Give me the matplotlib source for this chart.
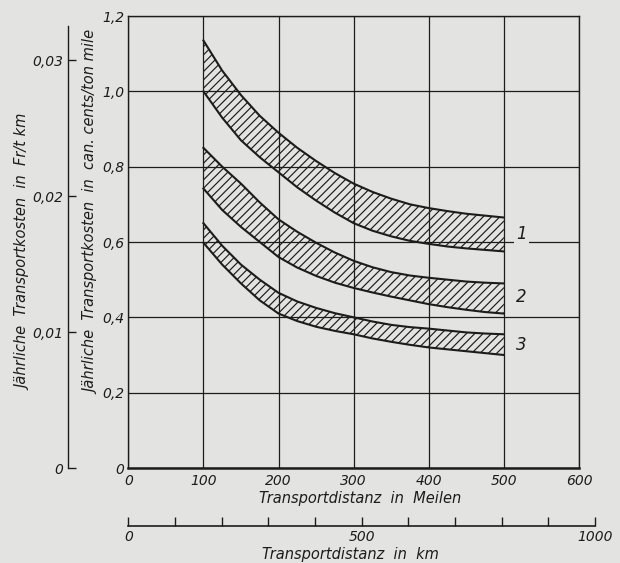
import matplotlib
matplotlib.use("Agg")
import matplotlib.pyplot as plt

# values (cents / ton mile over distance in miles)
miles = [100, 125, 150, 175, 200, 225, 250, 275, 300, 325, 350, 375, 400, 425, 450, 475, 500]
band1_upper = [1.135, 1.055, 0.99, 0.935, 0.89, 0.85, 0.815, 0.783, 0.755, 0.733, 0.715,
               0.70, 0.69, 0.682, 0.675, 0.67, 0.665]
band1_lower = [1.0, 0.93, 0.87, 0.825, 0.785, 0.745, 0.71, 0.678, 0.65, 0.63, 0.615,
               0.603, 0.595, 0.588, 0.583, 0.579, 0.575]
band2_upper = [0.85, 0.80, 0.755, 0.705, 0.66, 0.627, 0.598, 0.572, 0.55, 0.533, 0.52,
               0.511, 0.505, 0.50, 0.495, 0.492, 0.49]
band2_lower = [0.742, 0.685, 0.64, 0.60, 0.56, 0.532, 0.51, 0.492, 0.478, 0.466, 0.455,
               0.445, 0.435, 0.427, 0.42, 0.414, 0.41]
band3_upper = [0.65, 0.59, 0.54, 0.50, 0.465, 0.442, 0.425, 0.411, 0.40, 0.389, 0.38,
               0.374, 0.37, 0.365, 0.36, 0.357, 0.355]
band3_lower = [0.598, 0.54, 0.49, 0.445, 0.41, 0.39, 0.375, 0.364, 0.355, 0.344, 0.335,
               0.327, 0.32, 0.315, 0.31, 0.305, 0.30]
band_names = ["1", "2", "3"]
band_label_pos = [(516, 0.62), (516, 0.455), (516, 0.327)]

mile_ticks = [0, 100, 200, 300, 400, 500, 600]
cent_ticks = [0, 0.2, 0.4, 0.6, 0.8, 1.0, 1.2]
cent_labels = ["0", "0,2", "0,4", "0,6", "0,8", "1,0", "1,2"]
fr_ticks = [0, 0.01, 0.02, 0.03]
fr_labels = ["0", "0,01", "0,02", "0,03"]
km_ticks = [0, 100, 200, 300, 400, 500, 600, 700, 800, 900, 1000]
km_labels = ["0", "", "", "", "", "500", "", "", "", "", "1000"]

FR_PER_CENT = 0.0277      # Fr/t km per can. cent/ton mile (from the two scales)
MILES_PER_KM = 0.62137

bg = "#e3e3e1"
ink = "#1c1c1c"

plt.rcParams["font.family"] = ["DejaVu Sans"]
plt.rcParams["font.style"] = "italic"
plt.rcParams["font.size"] = 10
plt.rcParams["hatch.linewidth"] = 0.85
plt.rcParams["hatch.color"] = ink

fig = plt.figure(figsize=(6.2, 5.63), dpi=100, facecolor=bg)

L = 128.3 / 620
B = 1 - 468 / 563
W = (579 - 128.3) / 620
H = (468 - 16) / 563

ax = fig.add_axes([L, B, W, H])
ax.set_facecolor(bg)
ax.set_xlim(0, 600)
ax.set_ylim(0, 1.2)
ax.set_axisbelow(True)
ax.set_xticks(mile_ticks)
ax.set_xticklabels([str(t) for t in mile_ticks])
ax.set_yticks(cent_ticks)
ax.set_yticklabels(cent_labels)
ax.tick_params(length=0, colors=ink, labelsize=10)
ax.tick_params(axis="x", pad=4)
ax.tick_params(axis="y", pad=3)
ax.grid(True, color=ink, linewidth=0.9)
for side in ["left", "right", "top"]:
    ax.spines[side].set_linewidth(1.0)
    ax.spines[side].set_color(ink)
ax.spines["bottom"].set_linewidth(1.8)
ax.spines["bottom"].set_color(ink)

bands = [(band1_upper, band1_lower), (band2_upper, band2_lower), (band3_upper, band3_lower)]
for (upper, lower), name, pos in zip(bands, band_names, band_label_pos):
    ax.fill_between(miles, lower, upper, facecolor="none", edgecolor=ink,
                    linewidth=0, hatch="////", zorder=2)
    ax.plot(miles, upper, color=ink, linewidth=1.5, zorder=3, solid_joinstyle="round")
    ax.plot(miles, lower, color=ink, linewidth=1.5, zorder=3, solid_joinstyle="round")
    ax.text(pos[0], pos[1], name, fontsize=12, color=ink, ha="left", va="center",
            zorder=4, bbox=dict(facecolor=bg, edgecolor="none", pad=1.5))

# second cost scale in Fr/t km
ax_fr = fig.add_axes([67.5 / 620, B, 0.0001, H])
ax_fr.set_facecolor("none")
ax_fr.set_ylim(0, 1.2 * FR_PER_CENT)
ax_fr.xaxis.set_visible(False)
for side in ["right", "top", "bottom"]:
    ax_fr.spines[side].set_visible(False)
ax_fr.spines["left"].set_bounds(0, 0.0325)
ax_fr.spines["left"].set_color(ink)
ax_fr.spines["left"].set_linewidth(1.0)
ax_fr.set_yticks(fr_ticks)
ax_fr.set_yticklabels(fr_labels)
ax_fr.tick_params(axis="y", direction="in", length=5.5, width=1.0, pad=3,
                  colors=ink, labelsize=10)

# second distance scale in km
ax_km = fig.add_axes([L, 1 - 525.7 / 563, W * (1000 * MILES_PER_KM) / 600, 0.0001])
ax_km.set_facecolor("none")
ax_km.set_xlim(0, 1000)
ax_km.yaxis.set_visible(False)
for side in ["left", "right", "top"]:
    ax_km.spines[side].set_visible(False)
ax_km.spines["bottom"].set_color(ink)
ax_km.spines["bottom"].set_linewidth(1.2)
ax_km.set_xticks(km_ticks)
ax_km.set_xticklabels(km_labels)
ax_km.tick_params(axis="x", direction="in", length=6.5, width=1.0, pad=3,
                  colors=ink, labelsize=10)

fig.text(24 / 620, 1 - 252 / 563, "Jährliche  Transportkosten  in  Fr/t km",
         rotation=90, ha="center", va="center", color=ink, fontsize=10.5)
fig.text(92 / 620, 1 - 212 / 563, "Jährliche  Transportkosten  in  can. cents/ton mile",
         rotation=90, ha="center", va="center", color=ink, fontsize=10.5)
fig.text(360 / 620, 1 - 498 / 563, "Transportdistanz  in  Meilen",
         ha="center", va="center", color=ink, fontsize=10.5)
fig.text(350 / 620, 1 - 555 / 563, "Transportdistanz  in  km",
         ha="center", va="center", color=ink, fontsize=10.5)

fig.savefig("out.png", dpi=100, facecolor=bg)
